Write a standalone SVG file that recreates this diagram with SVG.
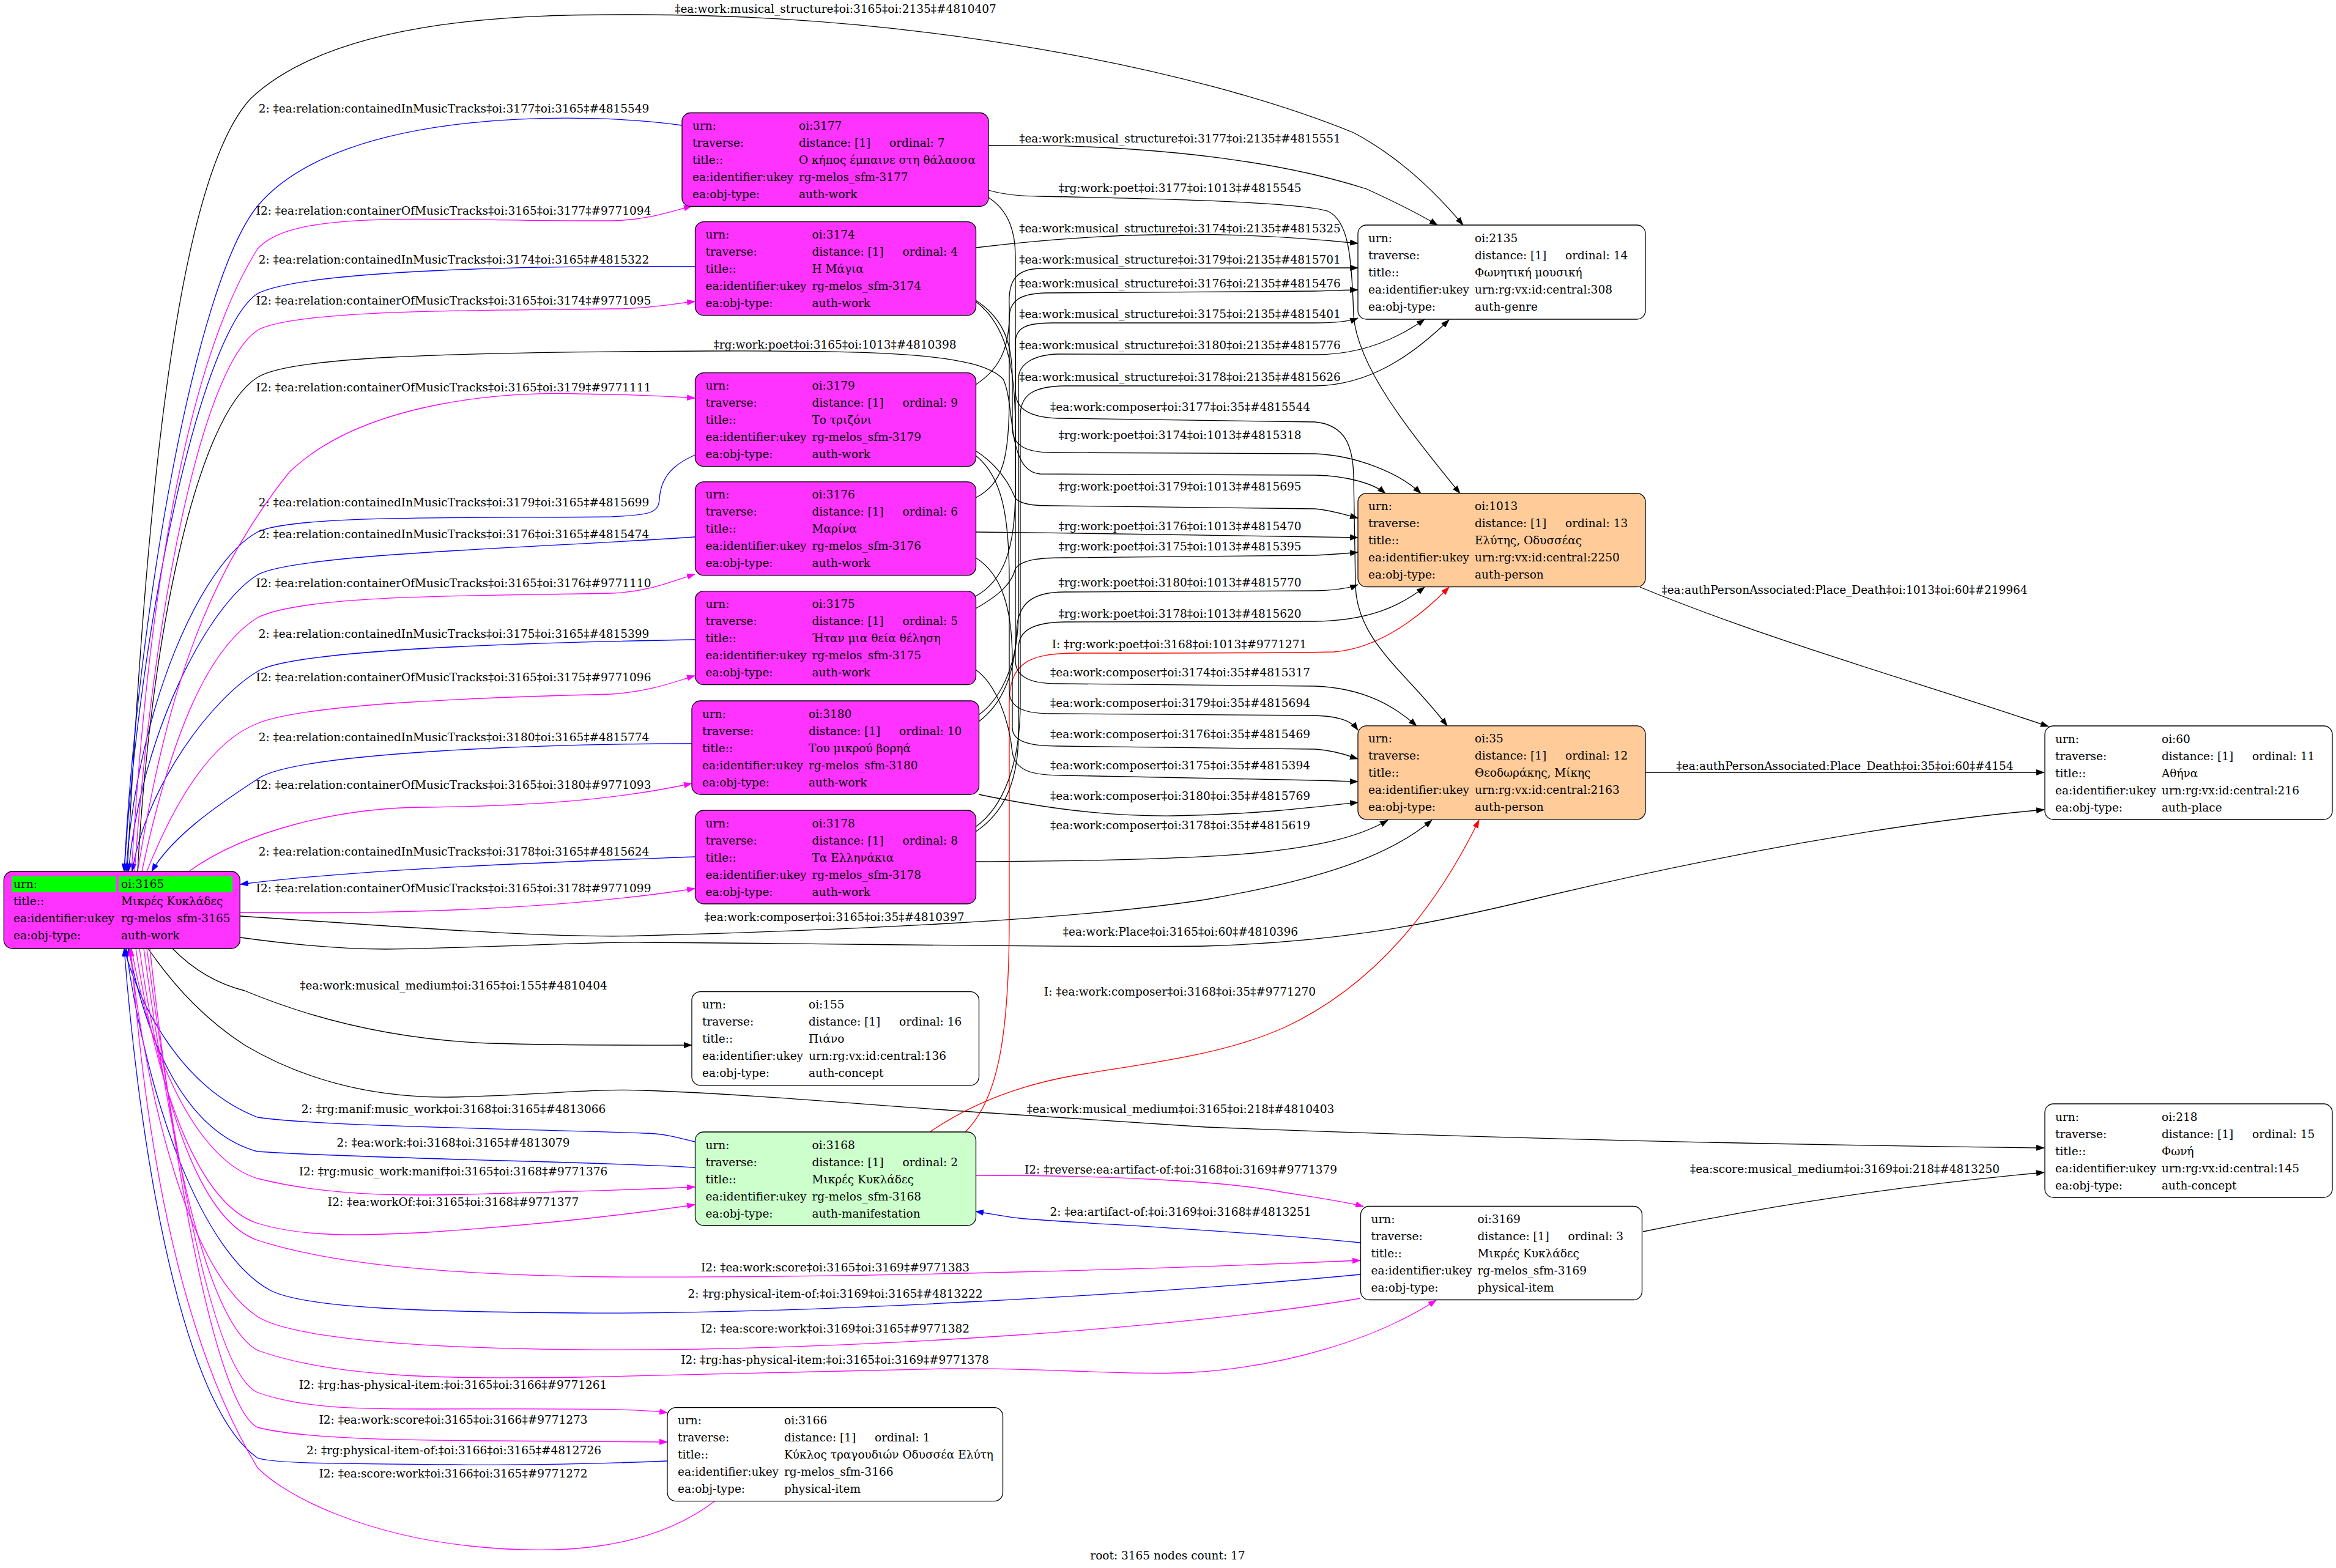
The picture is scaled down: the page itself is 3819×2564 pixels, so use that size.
<svg xmlns="http://www.w3.org/2000/svg" width="3819" height="2564" viewBox="0 0 3819 2564">
<style>
text{font-family:"DejaVu Serif","Liberation Serif",serif;font-size:18.5px;fill:#000}
.l{text-anchor:middle}
.e path{fill:none;stroke-width:1.3}
.k{stroke:#000;marker-end:url(#ak)}
.b{stroke:#00f;marker-end:url(#ab)}
.m{stroke:#f0f;marker-end:url(#am)}
.r{stroke:#f00;marker-end:url(#ar)}
.nb{stroke:#000;stroke-width:1.3}
.w{fill:#ff33ff}
.p{fill:#ffcc99}
.g{fill:#ccffcc}
.wh{fill:#fff}
</style>
<defs>
<marker id="ak" viewBox="0 0 14 10" refX="13" refY="5" markerWidth="14" markerHeight="10" markerUnits="userSpaceOnUse" orient="auto"><path d="M0,0L14,5L0,10z" fill="#000"/></marker>
<marker id="ab" viewBox="0 0 14 10" refX="13" refY="5" markerWidth="14" markerHeight="10" markerUnits="userSpaceOnUse" orient="auto"><path d="M0,0L14,5L0,10z" fill="#00f"/></marker>
<marker id="am" viewBox="0 0 14 10" refX="13" refY="5" markerWidth="14" markerHeight="10" markerUnits="userSpaceOnUse" orient="auto"><path d="M0,0L14,5L0,10z" fill="#f0f"/></marker>
<marker id="ar" viewBox="0 0 14 10" refX="13" refY="5" markerWidth="14" markerHeight="10" markerUnits="userSpaceOnUse" orient="auto"><path d="M0,0L14,5L0,10z" fill="#f00"/></marker>
</defs>
<rect width="3819" height="2564" fill="#fff"/>
<g id="edges" class="e">
<path class="k" d="M208,1425 C235,900 280,300 410,161 C560,20 900,24 1042,24 C1500,24 1950,110 2213,217 C2290,258 2350,318 2392,368"/>
<text class="l" x="1366" y="20.5">‡ea:work:musical_structure‡oi:3165‡oi:2135‡#4810407</text>
<path class="b" d="M1115,205 C980,185 560,170 421,337 C320,460 225,1000 203,1425"/>
<text class="l" x="742" y="183.5">2: ‡ea:relation:containedInMusicTracks‡oi:3177‡oi:3165‡#4815549</text>
<path class="b" d="M1136,436 C900,434 500,440 421,480 C330,540 230,1000 203,1425"/>
<text class="l" x="742" y="430.5">2: ‡ea:relation:containedInMusicTracks‡oi:3174‡oi:3165‡#4815322</text>
<path class="b" d="M1136,744 C1100,760 1080,780 1078,817 C1076,840 1060,842 1000,845 C800,848 480,840 421,870 C330,920 225,1150 206,1425"/>
<text class="l" x="742" y="827.5">2: ‡ea:relation:containedInMusicTracks‡oi:3179‡oi:3165‡#4815699</text>
<path class="b" d="M1136,878 C900,895 480,905 421,940 C340,990 230,1200 210,1425"/>
<text class="l" x="742" y="879.5">2: ‡ea:relation:containedInMusicTracks‡oi:3176‡oi:3165‡#4815474</text>
<path class="b" d="M1136,1046 C900,1050 480,1060 421,1098 C350,1140 240,1280 216,1425"/>
<text class="l" x="742" y="1042.5">2: ‡ea:relation:containedInMusicTracks‡oi:3175‡oi:3165‡#4815399</text>
<path class="b" d="M1131,1216 C900,1216 480,1230 421,1274 C350,1320 280,1370 248,1425"/>
<text class="l" x="742" y="1212">2: ‡ea:relation:containedInMusicTracks‡oi:3180‡oi:3165‡#4815774</text>
<path class="b" d="M1136,1401 C900,1410 600,1420 393,1446"/>
<text class="l" x="742" y="1398.5">2: ‡ea:relation:containedInMusicTracks‡oi:3178‡oi:3165‡#4815624</text>
<path class="m" d="M215,1425 C240,1000 300,600 421,407 C480,340 700,362 1000,361 C1060,360 1100,345 1131,337"/>
<text class="l" x="741.5" y="350.5">I2: ‡ea:relation:containerOfMusicTracks‡oi:3165‡oi:3177‡#9771094</text>
<path class="m" d="M220,1425 C250,1000 330,600 421,540 C480,505 800,508 1000,505 C1060,505 1100,497 1136,493"/>
<text class="l" x="741.5" y="497.5">I2: ‡ea:relation:containerOfMusicTracks‡oi:3165‡oi:3174‡#9771095</text>
<path class="m" d="M225,1425 C270,1150 330,950 473,772 C600,650 850,640 947,644 C1020,645 1090,648 1136,651"/>
<text class="l" x="741.5" y="639.5">I2: ‡ea:relation:containerOfMusicTracks‡oi:3165‡oi:3179‡#9771111</text>
<path class="m" d="M232,1425 C280,1200 340,1060 421,1010 C500,970 800,975 1000,970 C1060,968 1100,950 1136,939"/>
<text class="l" x="741.5" y="959.5">I2: ‡ea:relation:containerOfMusicTracks‡oi:3165‡oi:3176‡#9771110</text>
<path class="m" d="M240,1425 C290,1300 350,1210 421,1183 C500,1150 800,1140 1000,1135 C1070,1130 1110,1112 1136,1105"/>
<text class="l" x="741.5" y="1114">I2: ‡ea:relation:containerOfMusicTracks‡oi:3165‡oi:3175‡#9771096</text>
<path class="m" d="M310,1424 C400,1360 550,1320 700,1320 C850,1318 1000,1310 1131,1281"/>
<text class="l" x="741.5" y="1289.5">I2: ‡ea:relation:containerOfMusicTracks‡oi:3165‡oi:3180‡#9771093</text>
<path class="m" d="M393,1492 C600,1495 900,1490 1136,1453"/>
<text class="l" x="741.5" y="1459">I2: ‡ea:relation:containerOfMusicTracks‡oi:3165‡oi:3178‡#9771099</text>
<path class="k" d="M225,1425 C245,1050 320,680 421,617 C470,585 700,576 1157,574 C1450,573 1600,578 1640,620 C1660,660 1645,770 1700,775 L2150,777 C2200,778 2245,790 2265,807"/>
<text class="l" x="1365" y="569.5">‡rg:work:poet‡oi:3165‡oi:1013‡#4810398</text>
<path class="k" d="M393,1498 C650,1515 900,1535 1052,1530 C1400,1520 1750,1505 1971,1471 C2120,1445 2260,1410 2341,1341"/>
<text class="l" x="1364" y="1505.5">‡ea:work:composer‡oi:3165‡oi:35‡#4810397</text>
<path class="k" d="M393,1533 C480,1545 560,1552 631,1552 C800,1550 950,1540 1052,1541 C1400,1543 1750,1550 1971,1547 C2200,1540 2350,1508 2500,1472 C2800,1400 3100,1345 3342,1324"/>
<text class="l" x="1930" y="1530">‡ea:work:Place‡oi:3165‡oi:60‡#4810396</text>
<path class="k" d="M282,1551 C320,1590 360,1610 400,1620 C520,1670 650,1700 800,1706 C950,1710 1050,1709 1131,1709"/>
<text class="l" x="741.5" y="1617.5">‡ea:work:musical_medium‡oi:3165‡oi:155‡#4810404</text>
<path class="k" d="M242,1551 C290,1620 340,1670 400,1709 C520,1780 640,1795 737,1794 C900,1790 960,1780 1052,1783 C1250,1790 1450,1810 1650,1822 L1971,1843 C2400,1860 2900,1872 3342,1877"/>
<text class="l" x="1930" y="1819.5">‡ea:work:musical_medium‡oi:3165‡oi:218‡#4810403</text>
<path class="b" d="M1136,1867 C1100,1858 1080,1853 1052,1853 C800,1845 500,1840 421,1827 C300,1780 230,1650 203,1551"/>
<text class="l" x="741.5" y="1819.5">2: ‡rg:manif:music_work‡oi:3168‡oi:3165‡#4813066</text>
<path class="b" d="M1136,1909 C1000,1900 600,1895 421,1883 C300,1850 240,1700 210,1551"/>
<text class="l" x="741" y="1875">2: ‡ea:work:‡oi:3168‡oi:3165‡#4813079</text>
<path class="m" d="M215,1551 C250,1750 330,1900 421,1927 C550,1960 700,1955 800,1952 C950,1948 1050,1945 1136,1941"/>
<text class="l" x="741" y="1921.5">I2: ‡rg:music_work:manif‡oi:3165‡oi:3168‡#9771376</text>
<path class="m" d="M222,1551 C260,1800 330,1970 420,2000 C500,2025 600,2020 700,2015 C850,2005 1000,1990 1136,1970"/>
<text class="l" x="741" y="1972">I2: ‡ea:workOf:‡oi:3165‡oi:3168‡#9771377</text>
<path class="m" d="M1595,1922 C1800,1922 2000,1930 2100,1950 C2150,1958 2200,1965 2229,1973"/>
<text class="l" x="1930.5" y="1918.5">I2: ‡reverse:ea:artifact-of:‡oi:3168‡oi:3169‡#9771379</text>
<path class="b" d="M2224,2032 C2000,2010 1750,2000 1666,1992 C1640,1989 1615,1984 1595,1981"/>
<text class="l" x="1930" y="1987.5">2: ‡ea:artifact-of:‡oi:3169‡oi:3168‡#4813251</text>
<path class="r" d="M1578,1851 C1630,1800 1650,1700 1650,1500 L1650,1150 C1650,1085 1680,1068 1760,1068 C1900,1068 2100,1068 2181,1066 C2260,1060 2330,1000 2369,960"/>
<text class="l" x="1928" y="1060">I: ‡rg:work:poet‡oi:3168‡oi:1013‡#9771271</text>
<path class="r" d="M1520,1851 C1580,1810 1660,1775 1760,1758 C1880,1738 2000,1725 2100,1680 C2250,1610 2350,1480 2418,1341"/>
<text class="l" x="1929" y="1628">I: ‡ea:work:composer‡oi:3168‡oi:35‡#9771270</text>
<path class="m" d="M228,1551 C270,1850 340,2000 421,2028 C550,2070 750,2085 1000,2088 C1400,2090 1900,2075 2224,2061"/>
<text class="l" x="1365.5" y="2078.5">I2: ‡ea:work:score‡oi:3165‡oi:3169‡#9771383</text>
<path class="b" d="M2224,2084 C1900,2115 1300,2150 947,2147 C700,2145 500,2140 442,2110 C330,2050 240,1800 206,1551"/>
<text class="l" x="1365.5" y="2121.5">2: ‡rg:physical-item-of:‡oi:3169‡oi:3165‡#4813222</text>
<path class="m" d="M2224,2123 C1950,2170 1400,2210 947,2207 C700,2205 480,2190 421,2153 C310,2080 240,1800 212,1551"/>
<text class="l" x="1365.5" y="2178.5">I2: ‡ea:score:work‡oi:3169‡oi:3165‡#9771382</text>
<path class="m" d="M235,1551 C290,1950 350,2170 421,2208 C550,2255 750,2255 947,2252 C1200,2248 1400,2240 1550,2238 C1700,2236 1850,2250 1950,2244 C2100,2235 2250,2190 2348,2126"/>
<text class="l" x="1365" y="2229.5">I2: ‡rg:has-physical-item:‡oi:3165‡oi:3169‡#9771378</text>
<path class="m" d="M240,1551 C300,2000 360,2250 421,2277 C500,2305 600,2304 700,2304 C900,2304 1030,2302 1091,2310"/>
<text class="l" x="740.5" y="2271">I2: ‡rg:has-physical-item:‡oi:3165‡oi:3166‡#9771261</text>
<path class="m" d="M245,1551 C300,2050 370,2310 421,2334 C500,2355 700,2355 800,2356 C950,2357 1040,2357 1091,2358"/>
<text class="l" x="741" y="2327.5">I2: ‡ea:work:score‡oi:3165‡oi:3166‡#9771273</text>
<path class="b" d="M1091,2389 C950,2395 800,2396 737,2395 C600,2393 450,2395 421,2384 C300,2300 230,1900 203,1551"/>
<text class="l" x="742" y="2378">2: ‡rg:physical-item-of:‡oi:3166‡oi:3165‡#4812726</text>
<path class="m" d="M1168,2455 C1050,2545 880,2540 768,2528 C600,2510 470,2450 421,2400 C300,2200 240,1900 214,1551"/>
<text class="l" x="741" y="2415.5">I2: ‡ea:score:work‡oi:3166‡oi:3165‡#9771272</text>
<path class="k" d="M2686,2014 C2900,1970 3100,1940 3342,1917"/>
<text class="l" x="3016" y="1918">‡ea:score:musical_medium‡oi:3169‡oi:218‡#4813250</text>
<path class="k" d="M2681,960 C2900,1050 3150,1120 3349,1188"/>
<text class="l" x="3015.5" y="971">‡ea:authPersonAssociated:Place_Death‡oi:1013‡oi:60‡#219964</text>
<path class="k" d="M2690,1263 L3342,1263"/>
<text class="l" x="3016" y="1258.5">‡ea:authPersonAssociated:Place_Death‡oi:35‡oi:60‡#4154</text>
<path class="k" d="M1616,238 C1800,235 2050,250 2234,309 C2280,330 2320,350 2350,368"/>
<text class="l" x="1929" y="232.5">‡ea:work:musical_structure‡oi:3177‡oi:2135‡#4815551</text>
<path class="k" d="M1616,311 C1640,318 1665,321 1700,321 C1900,325 2120,330 2170,345 C2205,360 2210,420 2213,517 C2220,600 2300,700 2387,807"/>
<text class="l" x="1929" y="313.5">‡rg:work:poet‡oi:3177‡oi:1013‡#4815545</text>
<path class="k" d="M1616,323 C1650,345 1660,380 1660,420 L1660,640 C1660,672 1690,683 1730,684 L2150,690 C2200,695 2212,730 2213,780 L2216,960 C2220,1050 2300,1100 2366,1187"/>
<text class="l" x="1929.5" y="671.5">‡ea:work:composer‡oi:3177‡oi:35‡#4815544</text>
<path class="k" d="M1595,405 C1800,380 2000,375 2220,398"/>
<text class="l" x="1929" y="379.5">‡ea:work:musical_structure‡oi:3174‡oi:2135‡#4815325</text>
<path class="k" d="M1595,491 C1640,520 1655,560 1655,620 L1655,700 C1655,730 1680,740 1720,740 L2150,742 C2220,745 2290,775 2323,807"/>
<text class="l" x="1929" y="717.5">‡rg:work:poet‡oi:3174‡oi:1013‡#4815318</text>
<path class="k" d="M1595,493 C1645,530 1660,600 1660,700 L1660,1080 C1660,1110 1690,1118 1730,1118 L2150,1122 C2230,1125 2280,1155 2316,1187"/>
<text class="l" x="1929.5" y="1105.5">‡ea:work:composer‡oi:3174‡oi:35‡#4815317</text>
<path class="k" d="M1595,629 C1640,600 1652,560 1650,500 C1648,460 1660,440 1700,439 L2150,438 C2180,438 2200,438 2220,438"/>
<text class="l" x="1929" y="430.5">‡ea:work:musical_structure‡oi:3179‡oi:2135‡#4815701</text>
<path class="k" d="M1595,737 C1630,760 1650,790 1660,815 C1670,825 1690,827 1720,827 L2150,832 C2180,835 2200,842 2220,847"/>
<text class="l" x="1929" y="801.5">‡rg:work:poet‡oi:3179‡oi:1013‡#4815695</text>
<path class="k" d="M1595,745 C1640,780 1650,850 1650,950 L1650,1130 C1650,1160 1680,1167 1720,1167 L2150,1170 C2200,1172 2212,1183 2220,1194"/>
<text class="l" x="1929.5" y="1156">‡ea:work:composer‡oi:3179‡oi:35‡#4815694</text>
<path class="k" d="M1595,814 C1640,790 1650,750 1650,650 L1650,520 C1650,490 1670,480 1710,479 L2150,476 C2185,475 2205,474 2220,474"/>
<text class="l" x="1929" y="470">‡ea:work:musical_structure‡oi:3176‡oi:2135‡#4815476</text>
<path class="k" d="M1595,870 C1800,872 2000,875 2220,879"/>
<text class="l" x="1929" y="866.5">‡rg:work:poet‡oi:3176‡oi:1013‡#4815470</text>
<path class="k" d="M1595,912 C1640,940 1655,1000 1655,1080 L1655,1190 C1655,1215 1690,1220 1730,1220 L2150,1225 C2190,1228 2210,1238 2220,1241"/>
<text class="l" x="1929.5" y="1207">‡ea:work:composer‡oi:3176‡oi:35‡#4815469</text>
<path class="k" d="M1595,975 C1640,950 1660,900 1660,800 L1660,560 C1660,535 1680,528 1720,528 L2150,528 C2190,528 2210,524 2220,520"/>
<text class="l" x="1929" y="520">‡ea:work:musical_structure‡oi:3175‡oi:2135‡#4815401</text>
<path class="k" d="M1595,995 C1640,970 1655,950 1660,930 C1670,915 1700,912 1740,912 L2150,908 C2190,906 2210,904 2220,903"/>
<text class="l" x="1929" y="899.5">‡rg:work:poet‡oi:3175‡oi:1013‡#4815395</text>
<path class="k" d="M1595,1095 C1630,1120 1650,1180 1655,1230 C1660,1262 1690,1268 1740,1268 L2150,1276 C2190,1277 2210,1278 2220,1278"/>
<text class="l" x="1929.5" y="1257.5">‡ea:work:composer‡oi:3175‡oi:35‡#4815394</text>
<path class="k" d="M1600,1169 C1640,1140 1665,1080 1665,1000 L1665,620 C1665,595 1690,580 1730,579 L2150,580 C2230,580 2290,550 2329,522"/>
<text class="l" x="1929" y="571">‡ea:work:musical_structure‡oi:3180‡oi:2135‡#4815776</text>
<path class="k" d="M1600,1180 C1640,1150 1660,1100 1662,1030 C1664,985 1690,968 1740,968 L2150,966 C2190,965 2210,960 2220,956"/>
<text class="l" x="1929" y="958.5">‡rg:work:poet‡oi:3180‡oi:1013‡#4815770</text>
<path class="k" d="M1600,1299 C1700,1320 1800,1335 1918,1334 C2050,1332 2150,1320 2220,1312"/>
<text class="l" x="1929.5" y="1307.5">‡ea:work:composer‡oi:3180‡oi:35‡#4815769</text>
<path class="k" d="M1595,1352 C1640,1320 1668,1250 1668,1150 L1668,680 C1668,645 1690,632 1740,631 L2150,631 C2240,630 2310,580 2369,523"/>
<text class="l" x="1929" y="622.5">‡ea:work:musical_structure‡oi:3178‡oi:2135‡#4815626</text>
<path class="k" d="M1595,1360 C1640,1330 1665,1280 1665,1200 L1665,1060 C1665,1030 1690,1018 1740,1017 L2150,1016 C2240,1015 2290,990 2329,960"/>
<text class="l" x="1929" y="1009.5">‡rg:work:poet‡oi:3178‡oi:1013‡#4815620</text>
<path class="k" d="M1595,1409 C1800,1408 1950,1404 2050,1395 C2150,1385 2220,1370 2269,1341"/>
<text class="l" x="1929.5" y="1356">‡ea:work:composer‡oi:3178‡oi:35‡#4815619</text>
</g>
<g id="n3165">
<rect class="nb w" x="6.3" y="1425" width="386" height="126" rx="14"/>
<rect x="19" y="1433" width="171" height="26" fill="#0f0"/>
<rect x="194" y="1433" width="186" height="26" fill="#0f0"/>
<text x="22" y="1451.5">urn:</text><text x="198" y="1451.5">oi:3165</text>
<text x="22" y="1479.5">title::</text><text x="198" y="1479.5">Μικρές Κυκλάδες</text>
<text x="22" y="1507.5">ea:identifier:ukey</text><text x="198" y="1507.5">rg-melos_sfm-3165</text>
<text x="22" y="1535.5">ea:obj-type:</text><text x="198" y="1535.5">auth-work</text>
</g>
<g id="n3177">
<rect class="nb w" x="1115" y="184.5" width="501" height="153" rx="14"/>
<text x="1132" y="212">urn:</text><text x="1306" y="212">oi:3177</text>
<text x="1132" y="240">traverse:</text><text x="1306" y="240">distance: [1]</text><text x="1454" y="240">ordinal: 7</text>
<text x="1132" y="268">title::</text><text x="1306" y="268">Ο κήπος έμπαινε στη θάλασσα</text>
<text x="1132" y="296">ea:identifier:ukey</text><text x="1306" y="296">rg-melos_sfm-3177</text>
<text x="1132" y="324">ea:obj-type:</text><text x="1306" y="324">auth-work</text>
</g>
<g id="n3174">
<rect class="nb w" x="1136.5" y="362.7" width="459" height="153" rx="14"/>
<text x="1153.5" y="390.2">urn:</text><text x="1327.5" y="390.2">oi:3174</text>
<text x="1153.5" y="418.2">traverse:</text><text x="1327.5" y="418.2">distance: [1]</text><text x="1475.5" y="418.2">ordinal: 4</text>
<text x="1153.5" y="446.2">title::</text><text x="1327.5" y="446.2">Η Μάγια</text>
<text x="1153.5" y="474.2">ea:identifier:ukey</text><text x="1327.5" y="474.2">rg-melos_sfm-3174</text>
<text x="1153.5" y="502.2">ea:obj-type:</text><text x="1327.5" y="502.2">auth-work</text>
</g>
<g id="n3179">
<rect class="nb w" x="1136.5" y="609.6" width="459" height="153" rx="14"/>
<text x="1153.5" y="637.1">urn:</text><text x="1327.5" y="637.1">oi:3179</text>
<text x="1153.5" y="665.1">traverse:</text><text x="1327.5" y="665.1">distance: [1]</text><text x="1475.5" y="665.1">ordinal: 9</text>
<text x="1153.5" y="693.1">title::</text><text x="1327.5" y="693.1">Το τριζόνι</text>
<text x="1153.5" y="721.1">ea:identifier:ukey</text><text x="1327.5" y="721.1">rg-melos_sfm-3179</text>
<text x="1153.5" y="749.1">ea:obj-type:</text><text x="1327.5" y="749.1">auth-work</text>
</g>
<g id="n3176">
<rect class="nb w" x="1136.5" y="787.8" width="459" height="153" rx="14"/>
<text x="1153.5" y="815.3">urn:</text><text x="1327.5" y="815.3">oi:3176</text>
<text x="1153.5" y="843.3">traverse:</text><text x="1327.5" y="843.3">distance: [1]</text><text x="1475.5" y="843.3">ordinal: 6</text>
<text x="1153.5" y="871.3">title::</text><text x="1327.5" y="871.3">Μαρίνα</text>
<text x="1153.5" y="899.3">ea:identifier:ukey</text><text x="1327.5" y="899.3">rg-melos_sfm-3176</text>
<text x="1153.5" y="927.3">ea:obj-type:</text><text x="1327.5" y="927.3">auth-work</text>
</g>
<g id="n3175">
<rect class="nb w" x="1136.5" y="966.7" width="459" height="153" rx="14"/>
<text x="1153.5" y="994.2">urn:</text><text x="1327.5" y="994.2">oi:3175</text>
<text x="1153.5" y="1022.2">traverse:</text><text x="1327.5" y="1022.2">distance: [1]</text><text x="1475.5" y="1022.2">ordinal: 5</text>
<text x="1153.5" y="1050.2">title::</text><text x="1327.5" y="1050.2">Ήταν μια θεία θέληση</text>
<text x="1153.5" y="1078.2">ea:identifier:ukey</text><text x="1327.5" y="1078.2">rg-melos_sfm-3175</text>
<text x="1153.5" y="1106.2">ea:obj-type:</text><text x="1327.5" y="1106.2">auth-work</text>
</g>
<g id="n3180">
<rect class="nb w" x="1131" y="1146" width="469.5" height="153" rx="14"/>
<text x="1148" y="1173.5">urn:</text><text x="1322" y="1173.5">oi:3180</text>
<text x="1148" y="1201.5">traverse:</text><text x="1322" y="1201.5">distance: [1]</text><text x="1470" y="1201.5">ordinal: 10</text>
<text x="1148" y="1229.5">title::</text><text x="1322" y="1229.5">Του μικρού βορηά</text>
<text x="1148" y="1257.5">ea:identifier:ukey</text><text x="1322" y="1257.5">rg-melos_sfm-3180</text>
<text x="1148" y="1285.5">ea:obj-type:</text><text x="1322" y="1285.5">auth-work</text>
</g>
<g id="n3178">
<rect class="nb w" x="1136.5" y="1325" width="459" height="153" rx="14"/>
<text x="1153.5" y="1352.5">urn:</text><text x="1327.5" y="1352.5">oi:3178</text>
<text x="1153.5" y="1380.5">traverse:</text><text x="1327.5" y="1380.5">distance: [1]</text><text x="1475.5" y="1380.5">ordinal: 8</text>
<text x="1153.5" y="1408.5">title::</text><text x="1327.5" y="1408.5">Τα Ελληνάκια</text>
<text x="1153.5" y="1436.5">ea:identifier:ukey</text><text x="1327.5" y="1436.5">rg-melos_sfm-3178</text>
<text x="1153.5" y="1464.5">ea:obj-type:</text><text x="1327.5" y="1464.5">auth-work</text>
</g>
<g id="n155">
<rect class="nb wh" x="1131" y="1621.7" width="469.5" height="153" rx="14"/>
<text x="1148" y="1649.2">urn:</text><text x="1322" y="1649.2">oi:155</text>
<text x="1148" y="1677.2">traverse:</text><text x="1322" y="1677.2">distance: [1]</text><text x="1470" y="1677.2">ordinal: 16</text>
<text x="1148" y="1705.2">title::</text><text x="1322" y="1705.2">Πιάνο</text>
<text x="1148" y="1733.2">ea:identifier:ukey</text><text x="1322" y="1733.2">urn:rg:vx:id:central:136</text>
<text x="1148" y="1761.2">ea:obj-type:</text><text x="1322" y="1761.2">auth-concept</text>
</g>
<g id="n3168">
<rect class="nb g" x="1136.5" y="1851" width="459" height="153" rx="14"/>
<text x="1153.5" y="1878.5">urn:</text><text x="1327.5" y="1878.5">oi:3168</text>
<text x="1153.5" y="1906.5">traverse:</text><text x="1327.5" y="1906.5">distance: [1]</text><text x="1475.5" y="1906.5">ordinal: 2</text>
<text x="1153.5" y="1934.5">title::</text><text x="1327.5" y="1934.5">Μικρές Κυκλάδες</text>
<text x="1153.5" y="1962.5">ea:identifier:ukey</text><text x="1327.5" y="1962.5">rg-melos_sfm-3168</text>
<text x="1153.5" y="1990.5">ea:obj-type:</text><text x="1327.5" y="1990.5">auth-manifestation</text>
</g>
<g id="n3166">
<rect class="nb wh" x="1091" y="2301.6" width="548.5" height="153" rx="14"/>
<text x="1108" y="2329.1">urn:</text><text x="1282" y="2329.1">oi:3166</text>
<text x="1108" y="2357.1">traverse:</text><text x="1282" y="2357.1">distance: [1]</text><text x="1430" y="2357.1">ordinal: 1</text>
<text x="1108" y="2385.1">title::</text><text x="1282" y="2385.1">Κύκλος τραγουδιών Οδυσσέα Ελύτη</text>
<text x="1108" y="2413.1">ea:identifier:ukey</text><text x="1282" y="2413.1">rg-melos_sfm-3166</text>
<text x="1108" y="2441.1">ea:obj-type:</text><text x="1282" y="2441.1">physical-item</text>
</g>
<g id="n3169">
<rect class="nb wh" x="2224.5" y="1972.5" width="460" height="153" rx="14"/>
<text x="2241.5" y="2000">urn:</text><text x="2415.5" y="2000">oi:3169</text>
<text x="2241.5" y="2028">traverse:</text><text x="2415.5" y="2028">distance: [1]</text><text x="2563.5" y="2028">ordinal: 3</text>
<text x="2241.5" y="2056">title::</text><text x="2415.5" y="2056">Μικρές Κυκλάδες</text>
<text x="2241.5" y="2084">ea:identifier:ukey</text><text x="2415.5" y="2084">rg-melos_sfm-3169</text>
<text x="2241.5" y="2112">ea:obj-type:</text><text x="2415.5" y="2112">physical-item</text>
</g>
<g id="n2135">
<rect class="nb wh" x="2220" y="368" width="470" height="154" rx="14"/>
<text x="2237" y="395.5">urn:</text><text x="2411" y="395.5">oi:2135</text>
<text x="2237" y="423.5">traverse:</text><text x="2411" y="423.5">distance: [1]</text><text x="2559" y="423.5">ordinal: 14</text>
<text x="2237" y="451.5">title::</text><text x="2411" y="451.5">Φωνητική μουσική</text>
<text x="2237" y="479.5">ea:identifier:ukey</text><text x="2411" y="479.5">urn:rg:vx:id:central:308</text>
<text x="2237" y="507.5">ea:obj-type:</text><text x="2411" y="507.5">auth-genre</text>
</g>
<g id="n1013">
<rect class="nb p" x="2220" y="806.7" width="470" height="153" rx="14"/>
<text x="2237" y="834.2">urn:</text><text x="2411" y="834.2">oi:1013</text>
<text x="2237" y="862.2">traverse:</text><text x="2411" y="862.2">distance: [1]</text><text x="2559" y="862.2">ordinal: 13</text>
<text x="2237" y="890.2">title::</text><text x="2411" y="890.2">Ελύτης, Οδυσσέας</text>
<text x="2237" y="918.2">ea:identifier:ukey</text><text x="2411" y="918.2">urn:rg:vx:id:central:2250</text>
<text x="2237" y="946.2">ea:obj-type:</text><text x="2411" y="946.2">auth-person</text>
</g>
<g id="n35">
<rect class="nb p" x="2220" y="1186.8" width="470" height="153" rx="14"/>
<text x="2237" y="1214.3">urn:</text><text x="2411" y="1214.3">oi:35</text>
<text x="2237" y="1242.3">traverse:</text><text x="2411" y="1242.3">distance: [1]</text><text x="2559" y="1242.3">ordinal: 12</text>
<text x="2237" y="1270.3">title::</text><text x="2411" y="1270.3">Θεοδωράκης, Μίκης</text>
<text x="2237" y="1298.3">ea:identifier:ukey</text><text x="2411" y="1298.3">urn:rg:vx:id:central:2163</text>
<text x="2237" y="1326.3">ea:obj-type:</text><text x="2411" y="1326.3">auth-person</text>
</g>
<g id="n60">
<rect class="nb wh" x="3343" y="1187" width="470" height="153" rx="14"/>
<text x="3360" y="1214.5">urn:</text><text x="3534" y="1214.5">oi:60</text>
<text x="3360" y="1242.5">traverse:</text><text x="3534" y="1242.5">distance: [1]</text><text x="3682" y="1242.5">ordinal: 11</text>
<text x="3360" y="1270.5">title::</text><text x="3534" y="1270.5">Αθήνα</text>
<text x="3360" y="1298.5">ea:identifier:ukey</text><text x="3534" y="1298.5">urn:rg:vx:id:central:216</text>
<text x="3360" y="1326.5">ea:obj-type:</text><text x="3534" y="1326.5">auth-place</text>
</g>
<g id="n218">
<rect class="nb wh" x="3343" y="1805" width="470" height="153" rx="14"/>
<text x="3360" y="1832.5">urn:</text><text x="3534" y="1832.5">oi:218</text>
<text x="3360" y="1860.5">traverse:</text><text x="3534" y="1860.5">distance: [1]</text><text x="3682" y="1860.5">ordinal: 15</text>
<text x="3360" y="1888.5">title::</text><text x="3534" y="1888.5">Φωνή</text>
<text x="3360" y="1916.5">ea:identifier:ukey</text><text x="3534" y="1916.5">urn:rg:vx:id:central:145</text>
<text x="3360" y="1944.5">ea:obj-type:</text><text x="3534" y="1944.5">auth-concept</text>
</g>
<text class="l" x="1909" y="2550">root: 3165 nodes count: 17</text>
</svg>
